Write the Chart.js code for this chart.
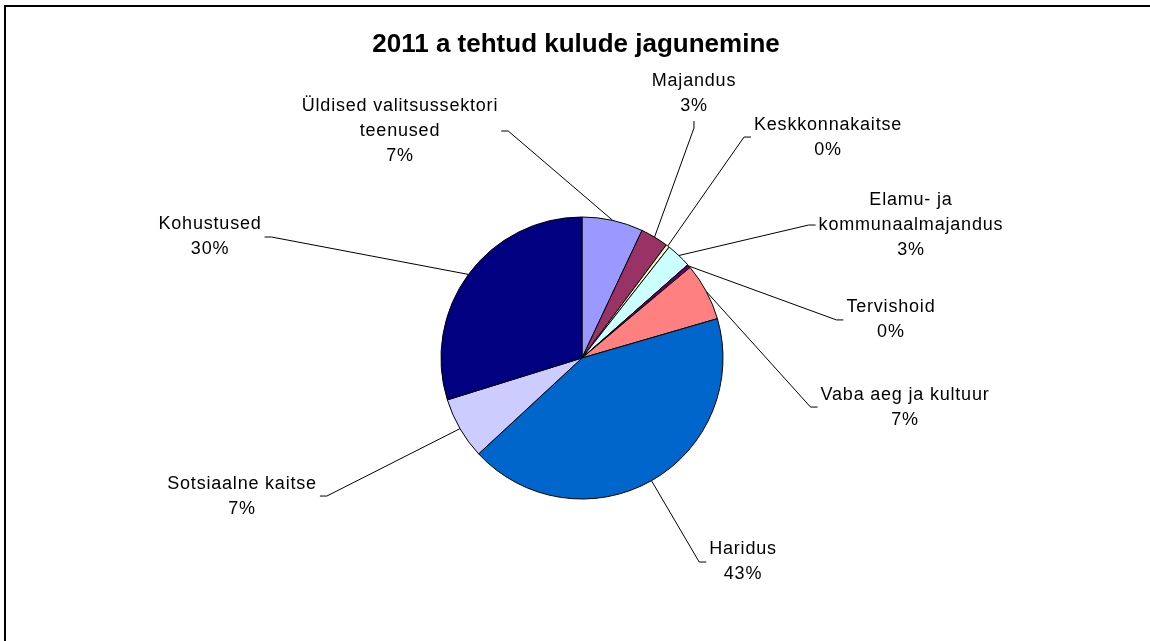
<!DOCTYPE html>
<html>
<head>
<meta charset="utf-8">
<script src="https://cdn.jsdelivr.net/npm/chart.js@4.4.1/dist/chart.umd.min.js"></script>
<style>
  html, body { margin: 0; padding: 0; background: #fff; }
  #wrap { position: relative; width: 1150px; height: 641px; }
</style>
</head>
<body>
<div id="wrap"><canvas id="myChartKulud" width="1150" height="641"></canvas></div>
<script>
const chartTitle = '2011 a tehtud kulude jagunemine'

const categories = [
    ['Üldised valitsussektori', 'teenused'],
    'Majandus',
    'Keskkonnakaitse',
    ['Elamu- ja', 'kommunaalmajandus'],
    'Tervishoid',
    'Vaba aeg ja kultuur',
    'Haridus',
    'Sotsiaalne kaitse',
    'Kohustused'
]
// share of spending, percent
const values = [7.0, 3.2, 0.4, 2.9, 0.4, 6.6, 42.6, 7.1, 29.8]

const colors = ['#9999FF', '#993366', '#FFFFCC', '#CCFFFF', '#660066', '#FF8080', '#0066CC', '#CCCCFF', '#000080']

// where each label sits, relative to pie centre, in pie radii
const labelPlace = [
    [-1.291, -1.610],
    [0.794, -1.879],
    [1.745, -1.567],
    [2.333, -0.943],
    [2.191, -0.270],
    [2.291, 0.348],
    [1.142, 1.447],
    [-2.411, 0.979],
    [-2.638, -0.858]
]

const LABEL_FONT = '18px "Liberation Sans", Arial, sans-serif'
const LINE_H = 25

const outsideLabels = {
    id: 'outsideLabels',
    beforeDraw(chart) {
        const c = chart.ctx
        c.save()
        c.fillStyle = '#000'
        c.fillRect(4, 5, 1146, 2)
        c.fillRect(4, 5, 2, 636)
        c.font = 'bold 26px "Liberation Sans", Arial, sans-serif'
        c.textAlign = 'center'
        c.textBaseline = 'middle'
        c.fillText(chartTitle, 576, 45)
        c.restore()
    },
    afterDatasetsDraw(chart) {
        const c = chart.ctx
        const meta = chart.getDatasetMeta(0)
        const data = chart.data.datasets[0].data
        const total = data.reduce((a, b) => a + b, 0)
        c.save()
        c.font = LABEL_FONT
        c.letterSpacing = '0.8px'
        c.fillStyle = '#000'
        c.strokeStyle = '#000'
        c.lineWidth = 1
        c.textAlign = 'center'
        c.textBaseline = 'middle'
        meta.data.forEach((arc, i) => {
            const r = arc.outerRadius
            const mid = (arc.startAngle + arc.endAngle) / 2
            const px = arc.x + Math.cos(mid) * r
            const py = arc.y + Math.sin(mid) * r
            const name = chart.data.labels[i]
            const lines = (Array.isArray(name) ? name.slice() : [name])
            lines.push(Math.round(data[i] / total * 100) + '%')
            const cx = arc.x + labelPlace[i][0] * r
            const cy = arc.y + labelPlace[i][1] * r
            const w = Math.max(...lines.map(t => c.measureText(t).width))
            const h = lines.length * LINE_H
            // leader line
            let ex, ey, tx, ty
            if (Math.abs(cx - px) < w / 2 + 10) {
                const side = cy < py ? 1 : -1
                ex = cx; ey = cy + side * (h / 2 + 3)
                tx = cx; ty = ey + side * 7
            } else {
                const side = cx < px ? 1 : -1
                ex = cx + side * (w / 2 + 3); ey = cy
                tx = ex + side * 7; ty = cy
            }
            c.beginPath()
            c.moveTo(ex, ey)
            c.lineTo(tx, ty)
            c.lineTo(px, py)
            c.stroke()
            lines.forEach((t, k) => {
                c.fillText(t, cx, cy - h / 2 + LINE_H / 2 + k * LINE_H)
            })
        })
        c.restore()
    }
}

const ctx = document.getElementById('myChartKulud')
const myChart = new Chart(ctx, {
    type: 'pie',
    data: {
        labels: categories,
        datasets: [{
            data: values,
            backgroundColor: colors,
            borderColor: '#000',
            borderWidth: 1
        }]
    },
    options: {
        responsive: false,
        animation: false,
        layout: {
            padding: { left: 440.5, right: 426.5, top: 216.5, bottom: 141.5 }
        },
        plugins: {
            legend: { display: false },
            title: { display: false },
            tooltip: { enabled: false }
        }
    },
    plugins: [outsideLabels]
})
</script>
</body>
</html>
